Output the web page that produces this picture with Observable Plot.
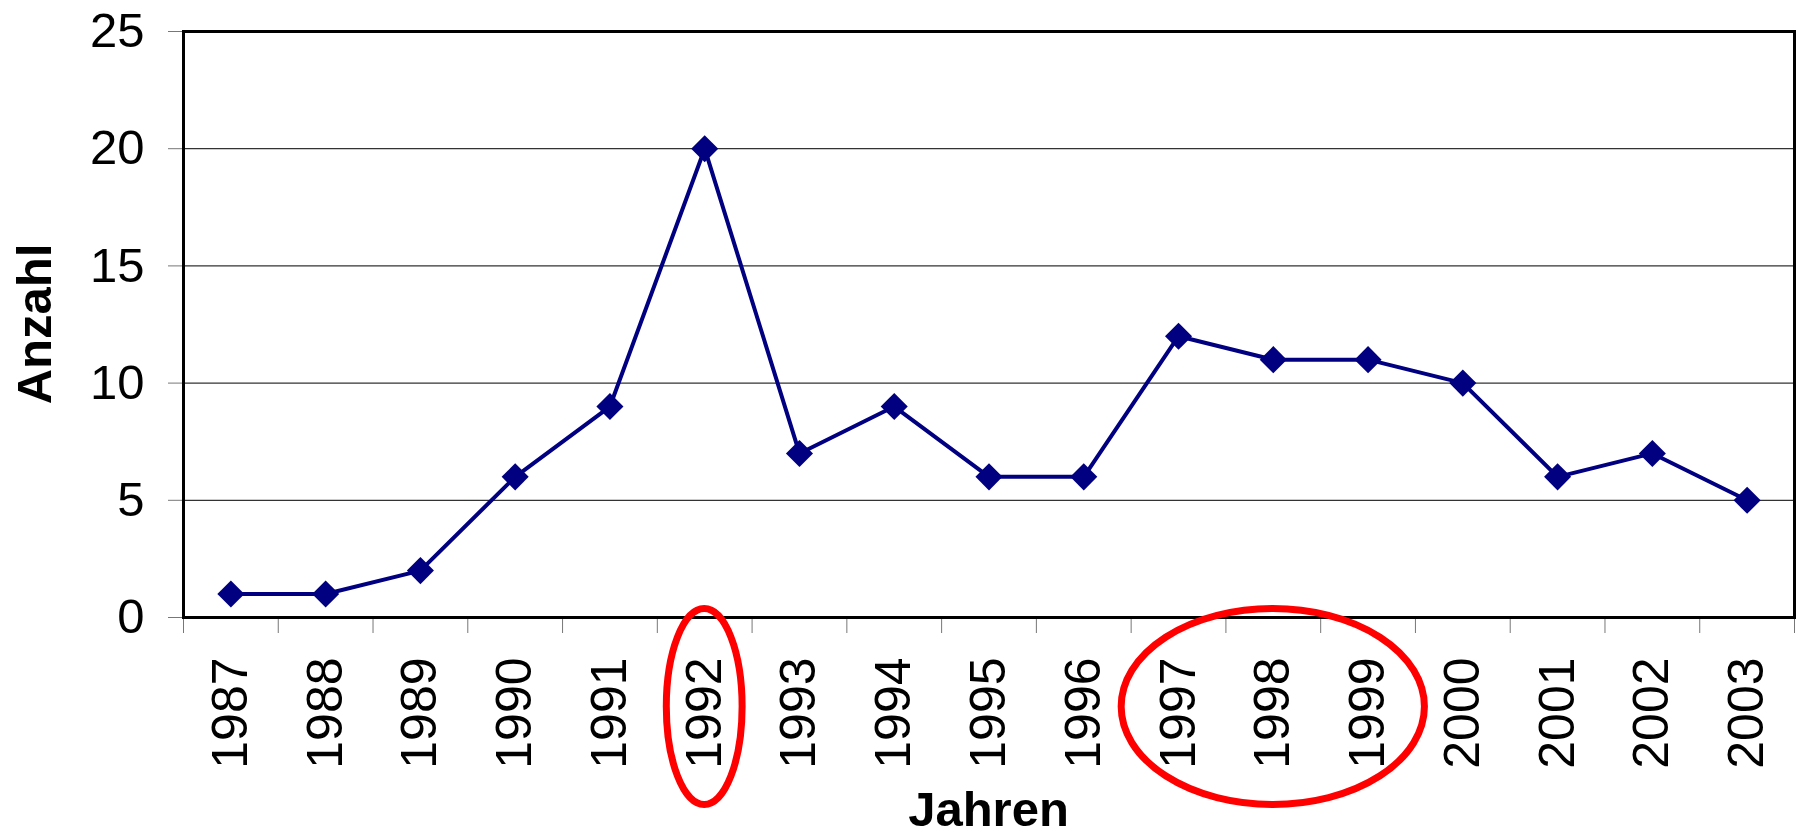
<!DOCTYPE html>
<html>
<head>
<meta charset="utf-8">
<script src="https://cdn.jsdelivr.net/npm/d3@7"></script>
<script src="https://cdn.jsdelivr.net/npm/@observablehq/plot@0.6"></script>
<style>
  html, body { margin: 0; padding: 0; background: #fff; }
  #chart { width: 1803px; height: 837px; overflow: hidden; }
  svg { font-family: "Liberation Sans", Arial, sans-serif; }
</style>
</head>
<body>
<div id="chart"></div>
<script>
const years = [1987, 1988, 1989, 1990, 1991, 1992, 1993, 1994, 1995, 1996, 1997, 1998, 1999, 2000, 2001, 2002, 2003];
const counts = [1, 1, 2, 6, 9, 20, 7, 9, 6, 6, 12, 11, 11, 10, 6, 7, 5];
const yTicks = [0, 5, 10, 15, 20, 25];
const gridTicks = [5, 10, 15, 20];
const highlightGroups = [[1992], [1997, 1998, 1999]];
const xLabel = "Jahren";
const yLabel = "Anzahl";

(function () {
const data = years.map((year, i) => ({year, count: counts[i]}));
const boundaries = [...years.map(y => y - 0.5), years[years.length - 1] + 0.5];

const plot = Plot.plot({
  width: 1803,
  height: 837,
  marginLeft: 183,
  marginRight: 9,
  marginTop: 31,
  marginBottom: 220,
  style: {fontFamily: "Liberation Sans, Arial, sans-serif", background: "#fff", color: "#000"},
  x: {type: "linear", domain: [boundaries[0], boundaries[boundaries.length - 1]]},
  y: {domain: [0, 25]},
  marks: [
    Plot.gridY(gridTicks, {stroke: "#333", strokeOpacity: 1, strokeWidth: 1.2}),
    Plot.axisY(yTicks, {tickSize: 15, tickPadding: 24, fontSize: 49, stroke: "#777", label: null, color: "#000"}),
    Plot.axisX(boundaries, {tickSize: 16, tickFormat: () => "", stroke: "#777", label: null}),
    Plot.axisX(years, {tickSize: 0, tickPadding: 40, tickRotate: -90, fontSize: 50, tickFormat: d => String(d), label: null}),
    Plot.frame({stroke: "#000", strokeWidth: 3}),
    Plot.line(data, {x: "year", y: "count", stroke: "#000080", strokeWidth: 4}),
    Plot.dot(data, {x: "year", y: "count", symbol: "diamond2", r: 12.2, fill: "#000080", stroke: "none"})
  ]
});

const xs = plot.scale("x");
const ys = plot.scale("y");
const svg = d3.select(plot);
const step = xs.apply(years[1]) - xs.apply(years[0]);
const pads = [0.4, 0.6];
highlightGroups.forEach((g, i) => {
  const x0 = xs.apply(g[0]), x1 = xs.apply(g[g.length - 1]);
  svg.append("ellipse")
    .attr("cx", (x0 + x1) / 2)
    .attr("cy", ys.apply(0) + 89.5)
    .attr("rx", (x1 - x0) / 2 + pads[i] * step)
    .attr("ry", 98)
    .attr("fill", "none")
    .attr("stroke", "#ff0000")
    .attr("stroke-width", 7);
});

const plotTop = ys.apply(25), plotBottom = ys.apply(0);
svg.append("text")
  .attr("transform", `translate(34,${(plotTop + plotBottom) / 2}) rotate(-90)`)
  .attr("text-anchor", "middle")
  .attr("dominant-baseline", "central")
  .attr("font-size", 49)
  .attr("font-weight", "bold")
  .attr("fill", "#000")
  .text(yLabel);
svg.append("text")
  .attr("x", (xs.apply(boundaries[0]) + xs.apply(boundaries[boundaries.length - 1])) / 2)
  .attr("y", 826)
  .attr("text-anchor", "middle")
  .attr("font-size", 49)
  .attr("font-weight", "bold")
  .attr("fill", "#000")
  .text(xLabel);

document.getElementById("chart").appendChild(plot);
})();
</script>
</body>
</html>
